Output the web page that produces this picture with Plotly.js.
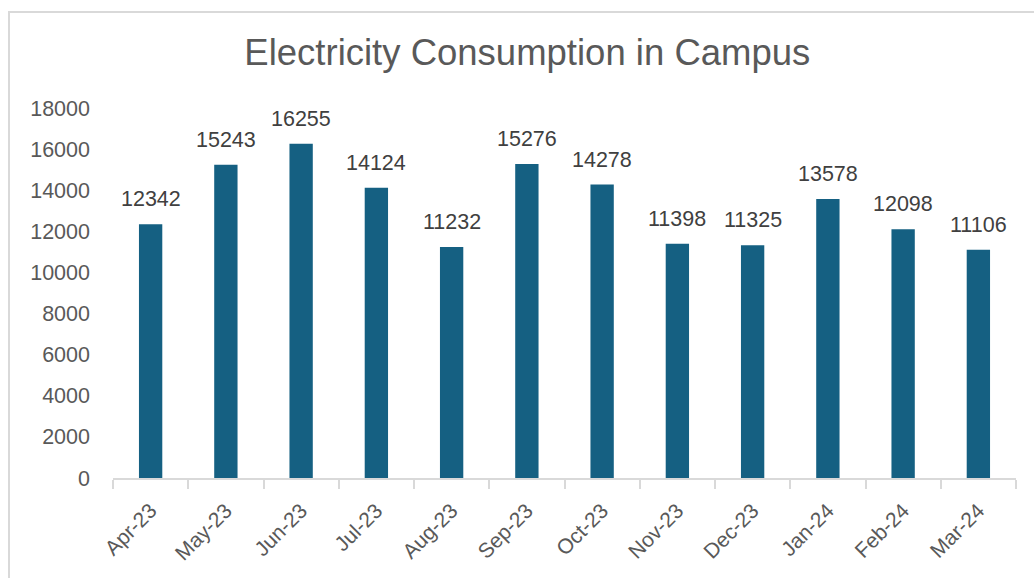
<!DOCTYPE html>
<html>
<head>
<meta charset="utf-8">
<script src="https://cdn.plot.ly/plotly-3.0.1.min.js"></script>
<style>
html,body{margin:0;padding:0;background:#fff;overflow:hidden;}
#frame{position:absolute;left:8px;top:11px;width:1100px;height:700px;border:2px solid #d9d9d9;box-sizing:border-box;pointer-events:none;z-index:5;}
#chart{position:absolute;left:0;top:0;width:1034px;height:578px;}
</style>
</head>
<body>
<div id="chart"></div>
<div id="frame"></div>
<script>
const months = ["Apr-23","May-23","Jun-23","Jul-23","Aug-23","Sep-23","Oct-23","Nov-23","Dec-23","Jan-24","Feb-24","Mar-24"];
const consumption = [12342,15243,16255,14124,11232,15276,14278,11398,11325,13578,12098,11106];
const yTicks = [0,2000,4000,6000,8000,10000,12000,14000,16000,18000];

const font = "Liberation Sans, Arial, sans-serif";

const trace = {
  type: "bar",
  x: months,
  y: consumption,
  marker: {color: "#156082"},
  hoverinfo: "x+y"
};

const annotations = months.map((m, i) => ({
  x: m, y: consumption[i], xref: "x", yref: "y",
  text: String(consumption[i]), showarrow: false,
  yanchor: "bottom", yshift: 11,
  font: {family: font, size: 21.5, color: "#404040"}
}));

const layout = {
  width: 1034, height: 578,
  margin: {l: 113, r: 18, t: 108, b: 100},
  paper_bgcolor: "#ffffff", plot_bgcolor: "#ffffff",
  showlegend: false,
  bargap: 0.69,
  title: {text: "Electricity Consumption in Campus", x: 0.51, xanchor: "center", y: 0.91, yanchor: "middle",
          font: {family: font, size: 36.5, color: "#595959"}},
  xaxis: {
    type: "category",
    showline: true, linecolor: "#d9d9d9", linewidth: 2,
    ticks: "outside", tickson: "boundaries", ticklen: 9, tickcolor: "#d9d9d9", tickwidth: 2,
    tickangle: -45,
    ticklabelstandoff: 10,
    tickfont: {family: font, size: 21, color: "#595959"},
    showgrid: false, zeroline: false
  },
  yaxis: {
    range: [0, 18000],
    tickvals: yTicks,
    ticktext: yTicks.map(String),
    showgrid: false, zeroline: false, showline: false,
    ticks: "", ticklen: 0,
    ticklabelstandoff: 22,
    tickfont: {family: font, size: 21.5, color: "#595959"}
  },
  annotations: annotations
};

Plotly.newPlot("chart", [trace], layout, {displayModeBar: false, staticPlot: true});
</script>
</body>
</html>
